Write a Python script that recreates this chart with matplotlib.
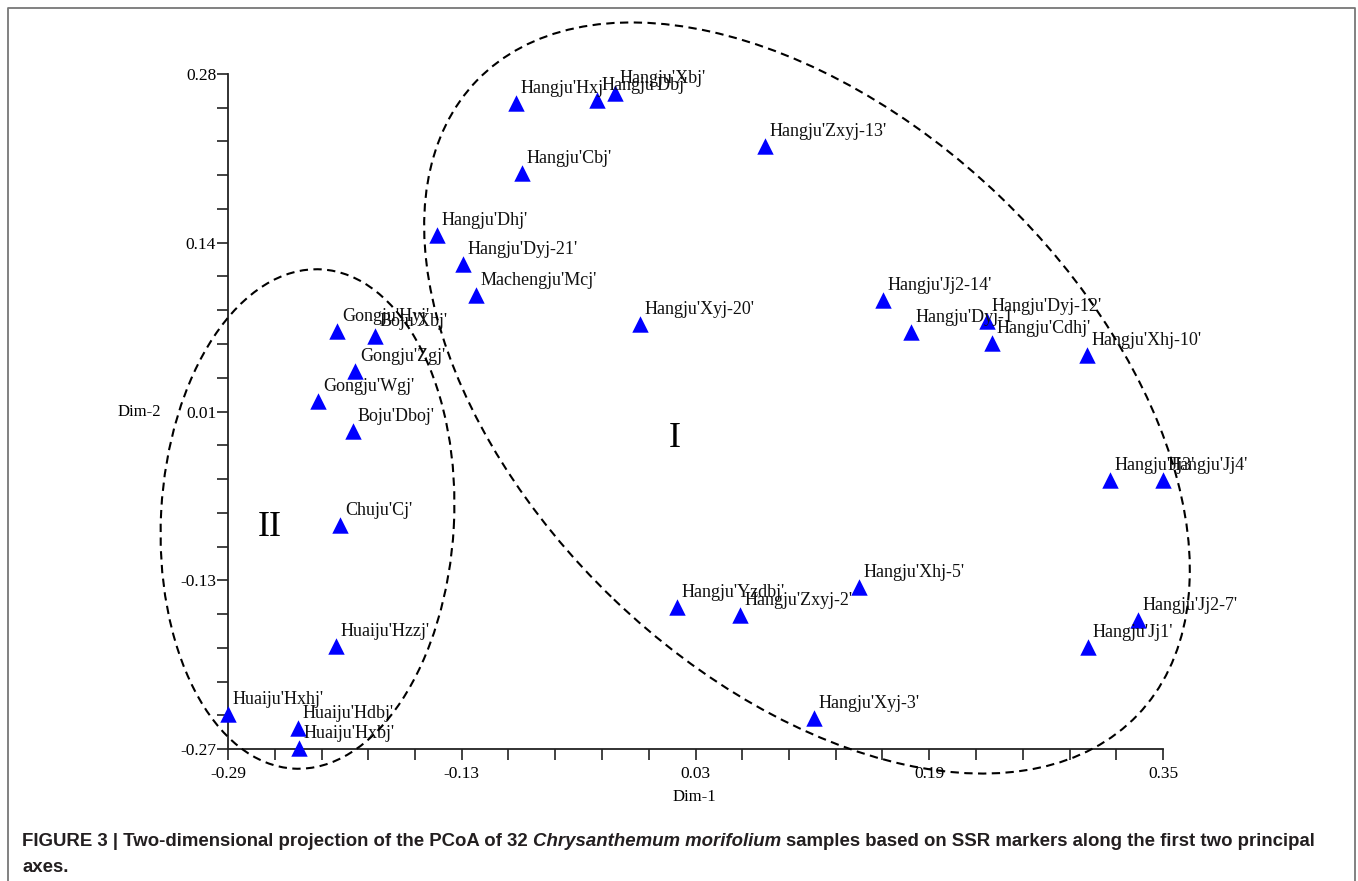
import matplotlib
matplotlib.use("Agg")
import matplotlib.pyplot as plt
import numpy as np
from matplotlib.patches import Ellipse
from matplotlib.lines import Line2D

# PCoA coordinates (Dim-1, Dim-2)
samples = [
    "Hangju'Hxj'", "Hangju'Dbj'", "Hangju'Xbj'", "Hangju'Cbj'", "Hangju'Zxyj-13'",
    "Hangju'Dhj'", "Hangju'Dyj-21'", "Machengju'Mcj'", "Hangju'Xyj-20'", "Hangju'Jj2-14'",
    "Hangju'Dyj-1'", "Hangju'Dyj-12'", "Hangju'Cdhj'", "Hangju'Xhj-10'", "Hangju'Jj3'",
    "Hangju'Jj4'", "Hangju'Xhj-5'", "Hangju'Yzdbj'", "Hangju'Zxyj-2'", "Hangju'Jj2-7'",
    "Hangju'Jj1'", "Hangju'Xyj-3'",
    "Gongju'Hyj'", "Boju'Xbj'", "Gongju'Zgj'", "Gongju'Wgj'", "Boju'Dboj'",
    "Chuju'Cj'", "Huaiju'Hzzj'", "Huaiju'Hxhj'", "Huaiju'Hdbj'", "Huaiju'Hxbj'",
]
dim1 = [-0.0929, -0.0374, -0.0251, -0.0888, 0.0775,
        -0.1469, -0.1292, -0.1203, -0.0080, 0.1583,
        0.1775, 0.2295, 0.2329, 0.2980, 0.3137,
        0.3500, 0.1419, 0.0173, 0.0604, 0.3329,
        0.2986, 0.1111,
        -0.2154, -0.1894, -0.2031, -0.2284, -0.2044,
        -0.2133, -0.2161, -0.2900, -0.2421, -0.2414]
dim2 = [0.2565, 0.2589, 0.2646, 0.1994, 0.2214,
        0.1489, 0.1253, 0.1000, 0.0764, 0.0959,
        0.0699, 0.0788, 0.0609, 0.0511, -0.0508,
        -0.0508, -0.1380, -0.1543, -0.1608, -0.1649,
        -0.1869, -0.2447,
        0.0707, 0.0666, 0.0381, 0.0136, -0.0108,
        -0.0874, -0.1861, -0.2415, -0.2529, -0.2692]

xticks = [-0.29, -0.13, 0.03, 0.19, 0.35]
xtick_labels = ["-0.29", "-0.13", "0.03", "0.19", "0.35"]
yticks = [-0.27, -0.1325, 0.005, 0.1425, 0.28]
ytick_labels = ["-0.27", "-0.13", "0.01", "0.14", "0.28"]

serif = ['Liberation Serif', 'DejaVu Serif']
W, H = 1358, 881
fig = plt.figure(figsize=(W / 100, H / 100), dpi=100)
fig.patch.set_facecolor('white')

ax = fig.add_axes([228 / W, (H - 749) / H, 935 / W, 675 / H])
ax.set_xlim(xticks[0], xticks[-1])
ax.set_ylim(yticks[0], yticks[-1])

ax.scatter(dim1, dim2, marker='^', s=140, color='#0000ff', linewidths=0,
           zorder=3, clip_on=False)
for name, x, y in zip(samples, dim1, dim2):
    ax.annotate(name, (x, y), xytext=(3.5, 7), textcoords='offset points',
                ha='left', va='baseline', fontsize=13, family=serif,
                color='#111111', zorder=4, annotation_clip=False)

# axes styling
for side in ['top', 'right']:
    ax.spines[side].set_visible(False)
for side in ['left', 'bottom']:
    ax.spines[side].set_linewidth(1.3)
    ax.spines[side].set_color('#222222')
ax.set_xticks(xticks)
ax.set_xticklabels(xtick_labels, family=serif, fontsize=12.5)
ax.set_yticks(yticks)
ax.set_yticklabels(ytick_labels, family=serif, fontsize=12.5)
ax.set_xticks(np.linspace(xticks[0], xticks[-1], 21), minor=True)
ax.set_yticks(np.linspace(yticks[0], yticks[-1], 21), minor=True)
ax.tick_params(which='both', direction='out', length=8, width=1.2, color='#222222')
ax.tick_params(axis='x', which='major', pad=4)
ax.tick_params(axis='y', which='major', pad=0.5)
ax.set_facecolor('none')

fig.text(694 / W, (H - 797) / H, 'Dim-1', ha='center', va='center',
         family=serif, fontsize=12)
fig.text(139 / W, (H - 412) / H, 'Dim-2', ha='center', va='center',
         family=serif, fontsize=12)

# group ellipses (drawn in inches so they keep their shape)
ell1 = Ellipse((8.07, (H - 398) / 100), 9.16, 5.58, angle=-43.8,
               transform=fig.dpi_scale_trans, fill=False, edgecolor='black',
               linewidth=1.5, linestyle=(0, (4, 2.6)), zorder=2)
ell2 = Ellipse((3.075, (H - 519) / 100), 5.0, 2.93, angle=86.85,
               transform=fig.dpi_scale_trans, fill=False, edgecolor='black',
               linewidth=1.5, linestyle=(0, (4, 2.6)), zorder=2)
fig.add_artist(ell1)
fig.add_artist(ell2)

fig.text(675 / W, (H - 438) / H, 'I', ha='center', va='center', family=serif, fontsize=26)
fig.text(270 / W, (H - 527) / H, 'II', ha='center', va='center', family=serif, fontsize=26)

# frame around the figure
fig.add_artist(Line2D([8 / W, 8 / W, 1355 / W, 1355 / W],
                      [-0.01, (H - 8) / H, (H - 8) / H, -0.01],
                      transform=fig.transFigure, color='#777777', linewidth=1.3))

# caption, written in runs so the species name can be italic
renderer = fig.canvas.get_renderer()
cap_runs = [
    ("FIGURE 3 | Two-dimensional projection of the PCoA of 32", 'normal'),
    ("Chrysanthemum morifolium", 'italic'),
    ("samples based on SSR markers along the first two principal", 'normal'),
]
sans = ['Liberation Sans', 'DejaVu Sans']


def run_widths(size):
    ws = []
    for txt, style in cap_runs:
        t = fig.text(0, 0, txt, fontsize=size, fontweight='bold', style=style, family=sans)
        ws.append(t.get_window_extent(renderer).width)
        t.remove()
    a = fig.text(0, 0, 'x x', fontsize=size, fontweight='bold', family=sans)
    b = fig.text(0, 0, 'xx', fontsize=size, fontweight='bold', family=sans)
    sp = a.get_window_extent(renderer).width - b.get_window_extent(renderer).width
    a.remove()
    b.remove()
    return ws, sp


ws, sp = run_widths(13)
size = 13 * 1296 / (sum(ws) + 2 * sp)
ws, sp = run_widths(size)
xpos = 22
for (txt, style), w in zip(cap_runs, ws):
    fig.text(xpos / W, (H - 846) / H, txt, fontsize=size, fontweight='bold', style=style,
             family=sans, ha='left', va='baseline', color='#231f20')
    xpos += w + sp
fig.text(22 / W, (H - 872) / H, 'axes.', fontsize=size, fontweight='bold',
         family=sans, ha='left', va='baseline', color='#231f20')

fig.savefig('out.png', dpi=100, facecolor='white')
